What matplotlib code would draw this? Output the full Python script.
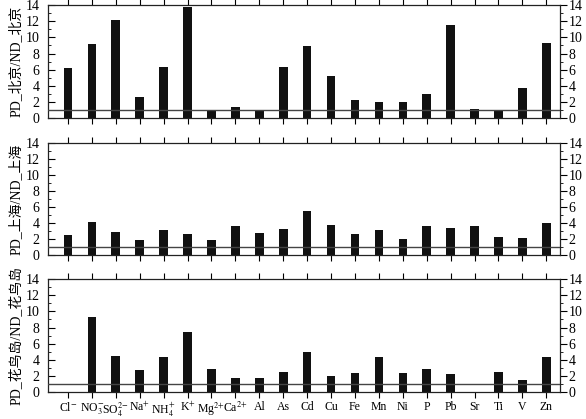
import matplotlib.pyplot as plt
from matplotlib.ticker import MultipleLocator

plt.rcParams['font.family'] = ['Liberation Serif', 'Noto Sans CJK SC']
plt.rcParams['mathtext.fontset'] = 'stix'

species = [r'Cl$^{-}$', r'NO$_3^{-}$', r'SO$_4^{2\!-}$', r'Na$^{+}$', r'NH$_4^{+}$',
           r'K$^{+}$', r'Mg$^{2\!+}$', r'Ca$^{2\!+}$', 'Al', 'As', 'Cd', 'Cu', 'Fe',
           'Mn', 'Ni', 'P', 'Pb', 'Sr', 'Ti', 'V', 'Zn']

beijing = [6.2, 9.15, 12.1, 2.6, 6.3, 13.8, 0.95, 1.4, 0.95, 6.3,
           8.95, 5.2, 2.2, 2.05, 2.05, 3.0, 11.5, 1.1, 0.9, 3.7, 9.3]
shanghai = [2.5, 4.1, 2.85, 1.9, 3.1, 2.6, 1.9, 3.6, 2.8, 3.25,
            5.5, 3.8, 2.6, 3.1, 2.0, 3.6, 3.4, 3.6, 2.3, 2.2, 4.0]
huaniao = [0, 9.3, 4.5, 2.75, 4.4, 7.5, 2.9, 1.8, 1.8, 2.55,
           5.0, 2.0, 2.35, 4.3, 2.35, 2.85, 2.3, 0, 2.5, 1.55, 4.3]

series = [beijing, shanghai, huaniao]
ylabels = ['PD_北京/ND_北京', 'PD_上海/ND_上海', 'PD_花鸟岛/ND_花鸟岛']

fig = plt.figure(figsize=(5.86, 4.19), dpi=100)
boxes = [(0.082, 0.718, 0.874, 0.270),
         (0.082, 0.391, 0.874, 0.268),
         (0.082, 0.064, 0.874, 0.270)]

x = list(range(len(species)))
for i, (vals, lab, box) in enumerate(zip(series, ylabels, boxes)):
    ax = fig.add_axes(box)
    ax.bar(x, vals, width=0.36, color='#111111', zorder=2)
    ax.axhline(1, color='#444444', lw=1.0, zorder=3)
    ax.set_xlim(-0.83, 20.58)
    ax.set_ylim(0, 14)
    ax.yaxis.set_major_locator(MultipleLocator(2))
    ax.yaxis.set_minor_locator(MultipleLocator(1))
    ax.set_xticks(x)
    if i == 2:
        ax.set_xticklabels(species, fontsize=8.5)
    else:
        ax.set_xticklabels([])
    ax.tick_params(axis='x', top=True, bottom=True, direction='out', length=4, pad=2)
    ax.tick_params(axis='y', which='major', left=True, right=True, labelright=True,
                   length=5, labelsize=10, pad=1)
    ax.tick_params(axis='y', which='minor', left=True, right=True, length=2.5)
    # all y ticks point to the right: inward on the left, outward on the right
    for t in ax.yaxis.get_major_ticks() + ax.yaxis.get_minor_ticks():
        t.tick1line.set_marker(1)
        t.tick2line.set_marker(1)
    ax.set_ylabel(lab, fontsize=10, labelpad=2)
    for s in ax.spines.values():
        s.set_linewidth(0.9)
        s.set_color('#222222')

fig.savefig('out.png', dpi=100)
